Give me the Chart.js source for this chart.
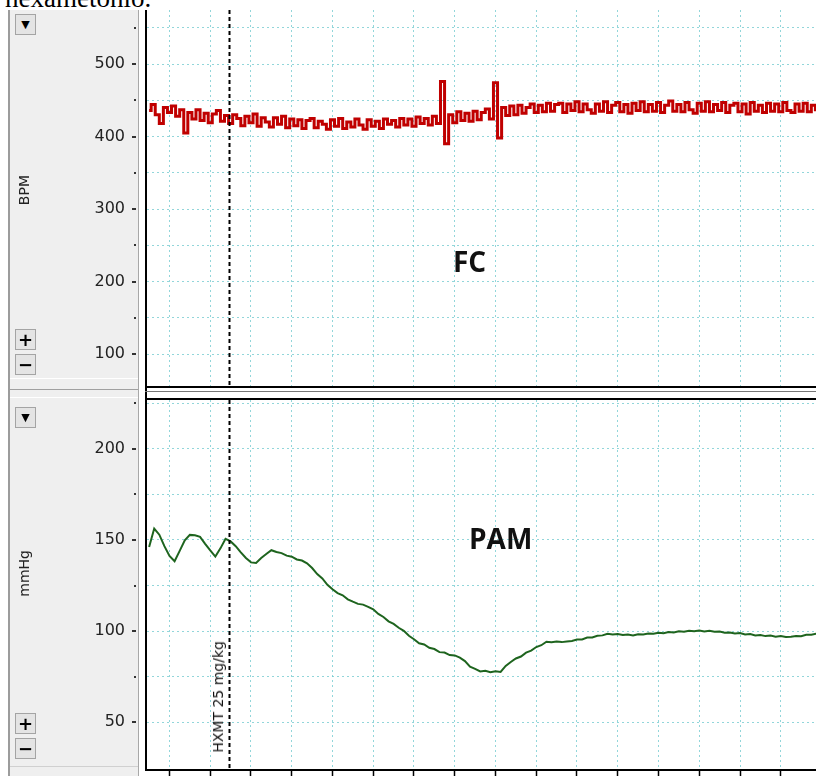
<!DOCTYPE html>
<html lang="pt">
  <head>
    <meta charset="UTF-8" />
    <title>FC / PAM</title>
    <style>
      body {
        margin: 0;
        width: 816px;
        height: 776px;
        overflow: hidden;
        background: #fff;
        position: relative;
        font-family: "DejaVu Sans", sans-serif;
      }
      .caption {
        position: absolute;
        left: 5px;
        top: -15px;
        font: 27px/27px "Liberation Serif", serif;
        color: #000;
      }
      .panel {
        position: absolute;
        left: 8px;
        top: 10px;
        width: 128px;
        height: 766px;
        background: #efefef;
        border-left: 2px solid #9c9c9c;
        border-right: 1px solid #a8a8a8;
      }
      .hline {
        position: absolute;
        height: 1px;
      }
      canvas {
        position: absolute;
        left: 0;
      }
      .btn {
        position: absolute;
        left: 15px;
        width: 19px;
        height: 19px;
        border: 1px solid #a4a4a4;
        background: #e4e4e4;
        text-align: center;
        line-height: 19px;
        font-weight: bold;
        color: #000;
      }
      .edge {
        position: absolute;
        background: #000;
      }
      .ytitle {
        position: absolute;
        left: 16px;
        font-size: 14px;
        line-height: 17px;
        color: #222;
        writing-mode: vertical-rl;
        transform: rotate(180deg);
        white-space: nowrap;
      }
      .big {
        position: absolute;
        font: bold 28px/28px "Open Sans", sans-serif;
        color: #111;
      }
    </style>
  </head>
  <body>
    <div class="caption">hexametonio.</div>
    <div class="panel"></div>
    <div class="hline" style="left: 10px; top: 378px; width: 128px; background: #fff"></div>
    <div class="hline" style="left: 10px; top: 389px; width: 128px; background: #a0a0a0"></div>
    <div class="hline" style="left: 10px; top: 397px; width: 128px; background: #fff"></div>
    <div class="hline" style="left: 10px; top: 766px; width: 128px; background: #d0d0d0"></div>

    <canvas id="chartFc" width="816" height="376" style="top: 10px"></canvas>
    <canvas id="chartPam" width="816" height="378" style="top: 398px"></canvas>

    <!-- moldura dos graficos -->
    <div class="edge" style="left: 145px; top: 10px; width: 2px; height: 761px"></div>
    <div class="edge" style="left: 145px; top: 386px; width: 671px; height: 2px"></div>
    <div class="hline" style="left: 145px; top: 391px; width: 671px; background: #777"></div>
    <div class="edge" style="left: 145px; top: 398px; width: 671px; height: 2px"></div>
    <div class="edge" style="left: 145px; top: 769px; width: 671px; height: 2px"></div>

    <div class="btn" style="top: 14px; font-size: 11px">▼</div>
    <div class="btn" style="top: 329px; font-size: 18px">+</div>
    <div class="btn" style="top: 354px; font-size: 18px">−</div>
    <div class="btn" style="top: 407px; font-size: 11px">▼</div>
    <div class="btn" style="top: 713px; font-size: 18px">+</div>
    <div class="btn" style="top: 738px; font-size: 18px">−</div>

    <div class="ytitle" style="top: 175px">BPM</div>
    <div class="ytitle" style="top: 550px">mmHg</div>

    <div class="big" style="left: 453px; top: 247px">FC</div>
    <div class="big" style="left: 469px; top: 524px">PAM</div>
    <div class="ytitle" style="left: 210px; top: 641px; color: #111">HXMT 25 mg/kg</div>

    <script src="https://cdn.jsdelivr.net/npm/chart.js@4.4.1/dist/chart.umd.min.js"></script>
    <script>
      // tempo em divisoes da grade (min)
      const xMin = -0.552;
      const xMax = 15.865;
      const xTicks = [0, 1, 2, 3, 4, 5, 6, 7, 8, 9, 10, 11, 12, 13, 14, 15];
      const markerTime = 1.46;

      // FC (BPM), amostras a cada 0.1
      const bpmStart = -0.5;
      const bpmStep = 0.1;
      const bpm = [
        436, 444, 430, 418, 440, 433, 442, 428, 437, 405,
        433, 424, 437, 422, 432, 419, 431, 436, 421, 429,
        418, 430, 425, 415, 428, 419, 431, 414, 426, 420,
        413, 426, 417, 428, 412, 424, 415, 423, 411, 422,
        425, 412, 421, 417, 410, 423, 414, 425, 411, 420,
        413, 424, 416, 410, 423, 414, 421, 411, 424, 417,
        422, 413, 425, 416, 424, 414, 427, 418, 425, 416,
        428, 418, 476, 390, 430, 419, 434, 422, 432, 421,
        435, 423, 433, 438, 424, 474, 398, 440, 429, 442,
        430, 443, 432, 440, 445, 433, 443, 434, 446, 435,
        444, 446, 433, 445, 436, 448, 434, 445, 437, 432,
        445, 435, 448, 433, 443, 447, 434, 444, 432, 446,
        436, 448, 434, 444, 435, 447, 433, 443, 449, 435,
        444, 434, 447, 437, 432, 446, 435, 448, 434, 444,
        436, 447, 433, 443, 446, 434, 445, 431, 447, 435,
        443, 433, 446, 435, 445, 434, 447, 436, 433, 445,
        435, 446, 434, 443, 437,
      ];
      const bpmTicks = [100, 150, 200, 250, 300, 350, 400, 450, 500, 550];
      const bpmLabelEvery = 100;

      // PAM (mmHg), amostras a cada 0.125
      const pamStart = -0.5;
      const pamStep = 0.125;
      const pam = [
        146.1, 156.3, 152.9, 146.6, 141.2, 138.3, 144.0, 149.8, 152.8, 152.6,
        151.7, 147.9, 144.3, 140.9, 145.4, 150.6, 149.2, 146.6, 143.2, 140.1,
        137.7, 137.4, 140.1, 142.3, 144.4, 143.4, 142.8, 141.4, 140.8, 139.3,
        138.7, 137.2, 134.6, 131.3, 128.9, 125.4, 122.9, 120.8, 119.6, 117.4,
        116.1, 114.9, 114.5, 113.3, 111.9, 109.4, 107.7, 105.3, 103.9, 101.8,
        100.1, 97.4, 95.5, 93.3, 92.6, 90.8, 90.1, 88.4, 88.2, 86.8,
        86.6, 85.4, 83.5, 80.4, 79.2, 77.8, 78.1, 77.4, 77.9, 77.5,
        80.8, 83.0, 84.9, 86.0, 88.1, 89.2, 91.2, 92.2, 94.1, 93.8,
        94.2, 93.9, 94.3, 94.5, 95.3, 95.4, 96.4, 96.5, 97.4, 97.6,
        98.5, 98.1, 98.4, 97.8, 98.1, 97.6, 98.2, 98.1, 98.6, 98.5,
        99.1, 98.8, 99.4, 99.2, 99.8, 99.6, 100.2, 99.9, 100.3, 99.8,
        100.1, 99.6, 99.7, 99.1, 99.2, 98.6, 98.9, 98.1, 98.3, 97.6,
        97.8, 97.2, 97.5, 96.9, 97.2, 96.7, 96.9, 97.2, 97.1, 97.9,
        98.0, 98.5,
      ];
      const pamTicks = [50, 75, 100, 125, 150, 175, 200, 225];
      const pamLabelEvery = 50;

      const gridColor = "rgba(110, 200, 205, 0.75)";

      // marcador da droga + tracinhos do eixo y
      const panelMarks = {
        id: "panelMarks",
        afterDatasetsDraw(chart) {
          const { ctx, chartArea, scales } = chart;
          const mx = Math.round(scales.x.getPixelForValue(markerTime)) + 0.5;
          ctx.save();
          ctx.strokeStyle = "#000";
          ctx.lineWidth = 2;
          ctx.setLineDash([4, 3]);
          ctx.beginPath();
          ctx.moveTo(mx, chartArea.top);
          ctx.lineTo(mx, chartArea.bottom);
          ctx.stroke();
          ctx.setLineDash([]);
          ctx.fillStyle = "#333";
          scales.y.ticks.forEach((t) => {
            const py = Math.round(scales.y.getPixelForValue(t.value));
            if (t.label === "") ctx.fillRect(134, py - 1, 2, 2);
            else ctx.fillRect(132, py - 1, 4, 2);
          });
          ctx.restore();
        },
      };

      function toPoints(values, start, step) {
        return values.map((v, i) => ({ x: start + i * step, y: v }));
      }

      function makeOptions(yMin, yMax, yTicks, labelEvery, bottomAxis) {
        return {
          responsive: false,
          animation: false,
          events: [],
          layout: { autoPadding: false, padding: { top: bottomAxis ? 2 : 0 } },
          plugins: { legend: { display: false }, tooltip: { enabled: false } },
          scales: {
            x: {
              type: "linear",
              min: xMin,
              max: xMax,
              afterBuildTicks: (s) => {
                s.ticks = xTicks.map((v) => ({ value: v }));
              },
              afterFit: (s) => {
                s.height = bottomAxis ? 7 : 0;
                s.paddingLeft = 0;
                s.paddingRight = 0;
              },
              ticks: { display: false },
              grid: {
                color: gridColor,
                drawTicks: bottomAxis,
                tickLength: 7,
                tickColor: "#000",
                tickWidth: 1.5,
                tickBorderDash: [],
              },
              border: { display: false, dash: [2, 3] },
            },
            y: {
              min: yMin,
              max: yMax,
              afterBuildTicks: (s) => {
                s.ticks = yTicks.map((v) => ({ value: v }));
              },
              afterFit: (s) => {
                s.width = 147;
                s.paddingTop = 0;
                s.paddingBottom = 0;
              },
              ticks: {
                padding: 22,
                color: "#222",
                font: { family: "DejaVu Sans", size: 16 },
                callback: (v) => (v % labelEvery === 0 ? v : ""),
              },
              grid: { color: gridColor, drawTicks: false },
              border: { display: false, dash: [2, 3] },
            },
          },
        };
      }

      const chartFc = document.getElementById("chartFc");
      new Chart(chartFc, {
        type: "line",
        data: {
          datasets: [
            {
              label: "FC",
              data: toPoints(bpm, bpmStart, bpmStep),
              borderColor: "#c00000",
              borderWidth: 3,
              pointRadius: 0,
              stepped: "middle",
            },
          ],
        },
        options: makeOptions(55.9, 574.5, bpmTicks, bpmLabelEvery, false),
        plugins: [panelMarks],
      });

      const chartPam = document.getElementById("chartPam");
      new Chart(chartPam, {
        type: "line",
        data: {
          datasets: [
            {
              label: "PAM",
              data: toPoints(pam, pamStart, pamStep),
              borderColor: "#1e641e",
              borderWidth: 2,
              pointRadius: 0,
              tension: 0,
            },
          ],
        },
        options: makeOptions(24.2, 226.9, pamTicks, pamLabelEvery, true),
        plugins: [panelMarks],
      });
    </script>
  </body>
</html>
